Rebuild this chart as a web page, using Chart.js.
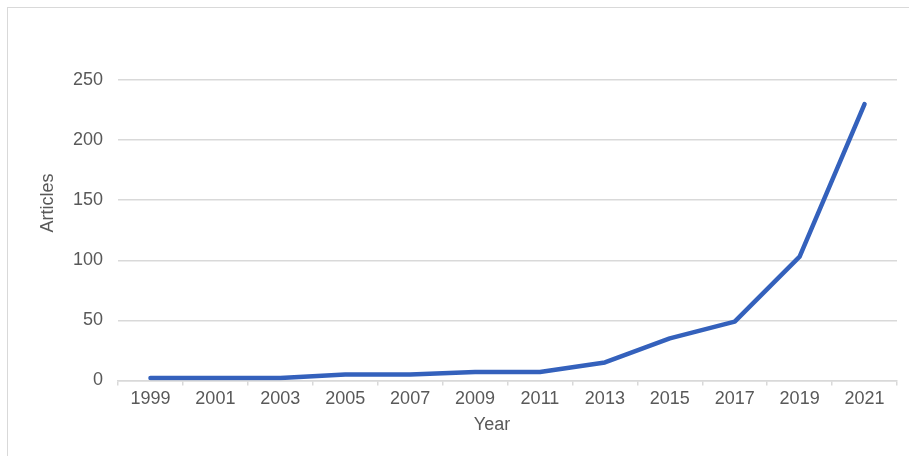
<!DOCTYPE html>
<html>
<head>
<meta charset="utf-8">
<script src="https://cdn.jsdelivr.net/npm/chart.js@4/dist/chart.umd.min.js"></script>
<style>
  html, body { margin: 0; padding: 0; background: #fff; }
  #wrap { position: relative; width: 909px; height: 456px; overflow: hidden; }
  #frame {
    position: absolute; left: 7px; top: 7px; width: 1000px; height: 500px;
    border-left: 1.5px solid #d9d9d9; border-top: 1.5px solid #d9d9d9;
    pointer-events: none;
  }
</style>
</head>
<body>
<div id="wrap">
  <canvas id="myChart" width="909" height="456"></canvas>
  <div id="frame"></div>
</div>
<script>
 const years = ['1999', '2001', '2003', '2005', '2007', '2009', '2011', '2013', '2015', '2017', '2019', '2021'];
 const articles = [2, 2, 2, 5, 5, 7, 7, 15, 35, 49, 103, 230];
 const yTicks = [0, 50, 100, 150, 200, 250];

 const grey = '#595959';
 const tickFont = { family: 'Liberation Sans, Arial, sans-serif', size: 18 };

 // axis titles sit a little off-centre, so they are drawn by hand
 const axisTitles = {
   id: 'axisTitles',
   afterDraw: function(chart) {
     const ctx = chart.ctx;
     const area = chart.chartArea;
     ctx.save();
     ctx.fillStyle = grey;
     ctx.font = '18px Liberation Sans, Arial, sans-serif';
     ctx.textAlign = 'center';
     ctx.textBaseline = 'middle';
     ctx.fillText('Year', area.left + 374, area.bottom + 45);
     ctx.translate(48, area.top + 123);
     ctx.rotate(-Math.PI / 2);
     ctx.fillText('Articles', 0, 0);
     ctx.restore();
   }
 };

 const config = {
   type: 'line',
   data: {
     labels: years,
     datasets: [{
       label: 'Articles',
       data: articles,
       borderColor: '#3461bc',
       backgroundColor: '#3461bc',
       borderWidth: 4.5,
       borderCapStyle: 'round',
       borderJoinStyle: 'round',
       pointRadius: 0,
       tension: 0
     }]
   },
   options: {
     responsive: false,
     animation: false,
     layout: { padding: { top: 80, right: 12, left: 0, bottom: 0 } },
     plugins: { legend: { display: false }, tooltip: { enabled: false } },
     scales: {
       x: {
         offset: true,
         afterFit: function(scale) { scale.height = 75.5; },
         border: { display: true, color: '#d9d9d9', width: 1.5 },
         grid: {
           offset: true,
           drawOnChartArea: false,
           drawTicks: true,
           tickLength: 5,
           color: '#d9d9d9',
           lineWidth: 1.5
         },
         ticks: { color: grey, font: tickFont, padding: 3, maxRotation: 0, autoSkip: false }
       },
       y: {
         min: 0,
         max: 250,
         afterFit: function(scale) { scale.width = 118; },
         afterBuildTicks: function(scale) {
           scale.ticks = yTicks.map(function(v) { return { value: v }; });
         },
         border: { display: false },
         grid: { color: '#d9d9d9', lineWidth: 1.5, drawTicks: false },
         ticks: { color: grey, font: tickFont, padding: 15 }
       }
     }
   },
   plugins: [axisTitles]
 };

 var myLineChart = new Chart(document.getElementById('myChart'), config);
</script>
</body>
</html>
